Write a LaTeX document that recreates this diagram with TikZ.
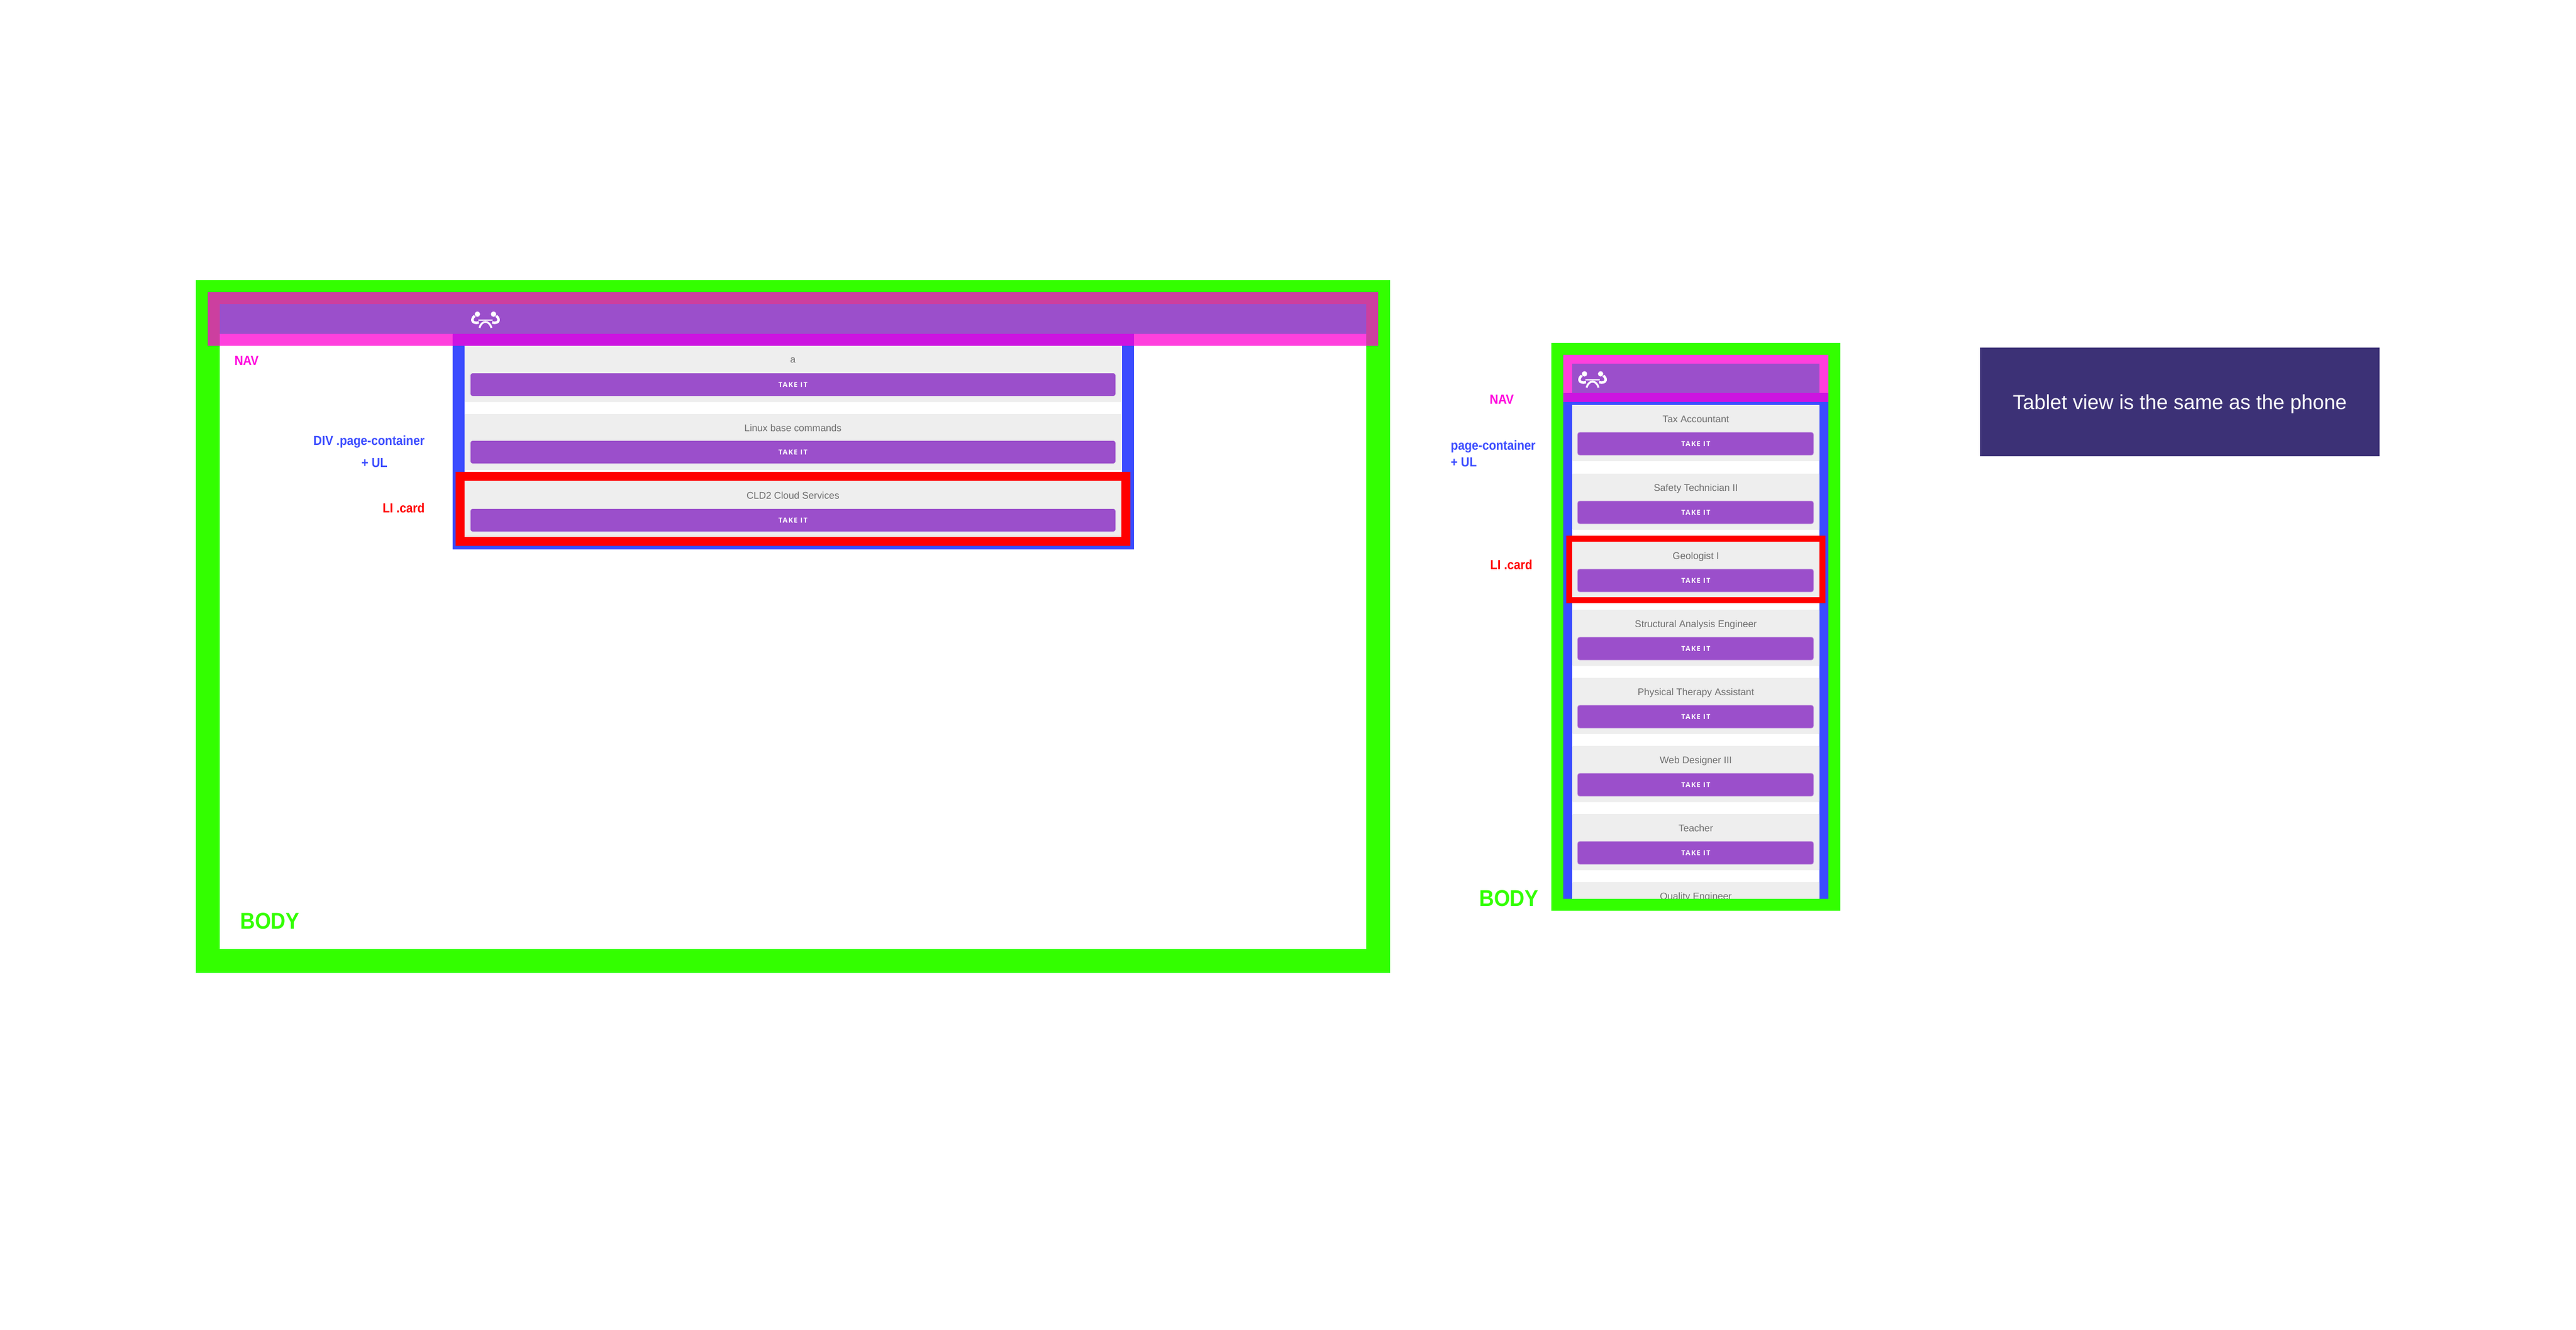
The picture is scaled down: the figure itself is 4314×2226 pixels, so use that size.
\documentclass[tikz,border=0pt]{standalone}
\usepackage{fontspec}
\setmainfont{Liberation Sans}
\newfontfamily\btnfont[LetterSpace=12]{Open Sans}
\usepackage{tikz}
\definecolor{bodygreen}{HTML}{33FF00}
\definecolor{navpink}{HTML}{FF40DD}
\definecolor{navtag}{HTML}{FF00DD}
\definecolor{navgreen}{HTML}{CC3F9F}
\definecolor{navblue}{HTML}{CC14E0}
\definecolor{ulblue}{HTML}{3B4CFF}
\definecolor{liked}{HTML}{FF0000}
\definecolor{brandpurple}{HTML}{9B4FCB}
\definecolor{cardgrey}{HTML}{EEEEEE}
\definecolor{titlegrey}{HTML}{6E6E6E}
\definecolor{notenavy}{HTML}{3C3176}
\tikzset{
    card/.style={fill=cardgrey, rounded corners=0.4pt},
    btn/.style={fill=brandpurple, rounded corners=1pt},
    btnphone/.style={btn, draw=brandpurple!70!white, line width=0.25pt},
    tag/.style={inner sep=0pt, xscale=0.9, font=\bfseries\fontsize{6.26}{7}\selectfont},
    bodytag/.style={inner sep=0pt, text=bodygreen, xscale=0.9, font=\bfseries\fontsize{10.9}{12}\selectfont},
    cardtitle/.style={inner sep=0pt, anchor=base, text=titlegrey, font=\fontsize{4.62}{5}\selectfont},
    btntext/.style={inner sep=0pt, anchor=base, text=white, font=\btnfont\bfseries\fontsize{3.3}{4}\selectfont},
    logo/.pic={
        \fill[white] (-13.5,-10) circle (4.5) (13.5,-10) circle (4.5);
        \draw[white, line width=0.6pt] (-12,0) -- (12,0);
        \draw[white, line width=0.9pt] (-10,13) .. controls (-8,6) and (-4,3) .. (0,3) .. controls (4,3) and (8,6) .. (10,13);
        \draw[white, line width=1.2pt] (-18,-7) .. controls (-24,-3) and (-24,7) .. (-11,4);
        \draw[white, line width=1.2pt] (18,-7) .. controls (24,-3) and (24,7) .. (11,4);
    }
}
\begin{document}
\begin{tikzpicture}[x=0.01cm, y=-0.01cm]
\useasboundingbox (0,0) rectangle (4314,2226);
\fill[white] (0,0) rectangle (4314,2226);

% desktop
\fill[bodygreen] (328,469) rectangle (2328,1629);
\fill[white] (368,509) rectangle (2288,1589);
\fill[navgreen] (348,489) rectangle (2308,579);
\fill[navpink] (368,559) rectangle (2288,579);
\fill[brandpurple] (368,509) rectangle (2288,559);
\fill[ulblue] (758,579) rectangle (1899,920);
\fill[white] (778,579) rectangle (1879,899);
\fill[navblue] (758,559) rectangle (1899,579);
\pic (logodesk) at (813,536) {logo};

\foreach \y/\t/\b/\title/\n in {579/607/625/a/one, 693/722/738/Linux base commands/two, 805/835/852/CLD2 Cloud Services/three} {
    \fill[card] (778,\y) rectangle ++(1100,94);
    \fill[btn] (788,\b) rectangle ++(1080,38);
    \node[cardtitle] (desk\n) at (1328,\t) {\title};
    \node[btntext] (deskbtn\n) at (1328,\b+23) {TAKE IT};
}
\draw[liked, line width=4.27pt] (770.5,797.5) rectangle (1885,906.5);

\node[tag, text=navtag] (navdesk) at (413,604) {NAV};
\node[tag, text=ulblue] (divdesk) at (618,740) {DIV .page-container};
\node[tag, text=ulblue] (uldesk) at (627,775) {+ UL};
\node[tag, text=liked] (lidesk) at (676,851) {LI .card};
\node[bodytag] (bodydesk) at (452,1542) {BODY};

% phone
\fill[bodygreen] (2598,574) rectangle (3082,1525);
\fill[ulblue] (2618,673) rectangle (3062,1505);
\fill[white] (2633,678) rectangle (3047,1505);
\fill[navpink] (2618,594) rectangle (3062,658);
\fill[navblue] (2618,658) rectangle (3062,673);
\fill[brandpurple] (2633,609) rectangle (3047,658);
\pic (logophone) at (2667,636) {logo};

\foreach \y/\title/\n in {678/Tax Accountant/one, 793/Safety Technician II/two, 907/Geologist I/three, 1021/Structural Analysis Engineer/four, 1135/Physical Therapy Assistant/five, 1249/Web Designer III/six, 1363/Teacher/seven} {
    \fill[card] (2633,\y) rectangle ++(414,94);
    \filldraw[btnphone] (2642,\y+46) rectangle ++(395,38);
    \node[cardtitle] (phone\n) at (2840,\y+29) {\title};
    \node[btntext] (phonebtn\n) at (2840,\y+69) {TAKE IT};
}
\fill[card] (2633,1477) rectangle (3047,1505);
\node[cardtitle] (phoneeight) at (2840,1506) {Quality Engineer};
\fill[bodygreen] (2598,1505) rectangle (3082,1525);
\draw[liked, line width=2.845pt] (2628,902) rectangle (3052,1005);

\node[tag, text=navtag] (navphone) at (2515,669) {NAV};
\node[tag, text=ulblue, anchor=west] (divphone) at (2429,748) {page-container};
\node[tag, text=ulblue, anchor=west] (ulphone) at (2429,774) {+ UL};
\node[tag, text=liked, anchor=west] (liphone) at (2495,946) {LI .card};
\node[bodytag] (bodyphone) at (2527,1504) {BODY};

% note
\node[fill=notenavy, text=white, minimum width=669*0.2845pt, minimum height=182*0.2845pt, inner sep=0pt, text depth=0pt, font=\fontsize{9.7}{11}\selectfont] (note) at (3650.5,673) {Tablet view is the same as the phone};
\end{tikzpicture}
\end{document}
